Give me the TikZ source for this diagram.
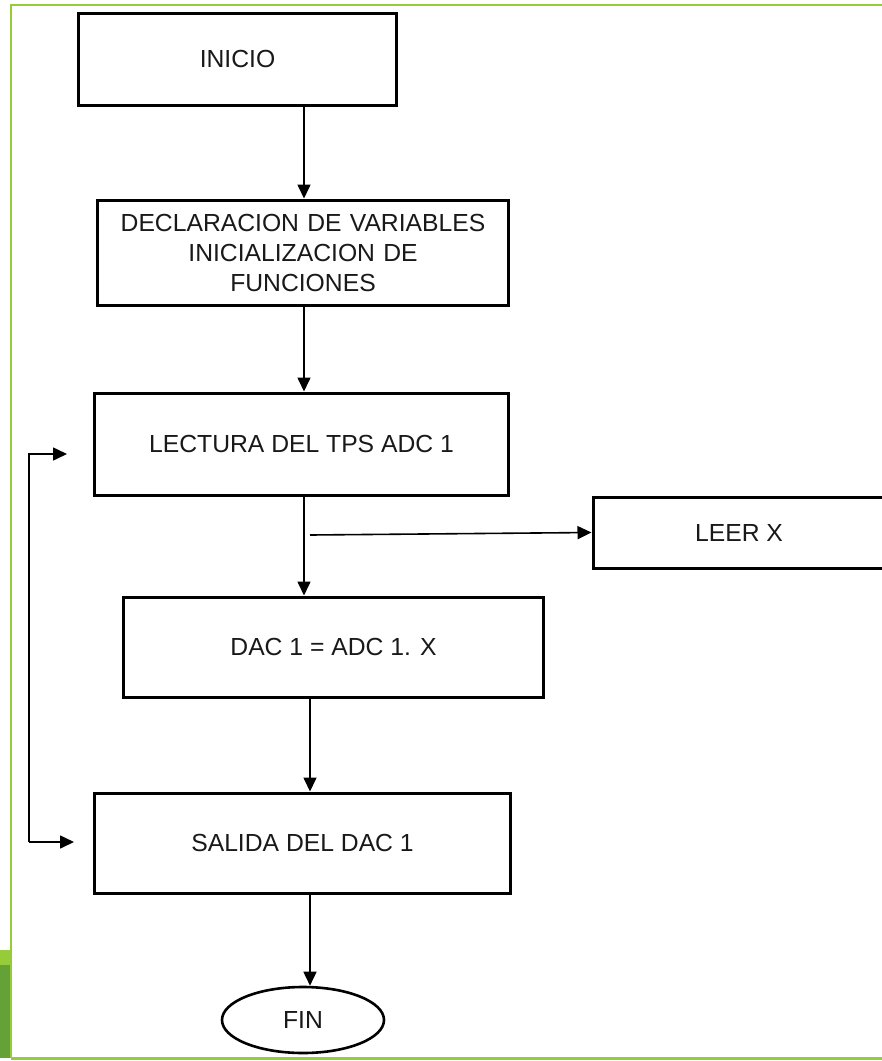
\documentclass[tikz,border=0pt]{standalone}
\usepackage{fontspec}
\setmainfont{Liberation Sans}
\usetikzlibrary{arrows.meta,shapes.geometric}
\definecolor{framegreen}{RGB}{150,204,58}
\definecolor{darkgreen}{RGB}{100,162,56}
\begin{document}
\begin{tikzpicture}[x=1bp,y=-1bp,
  every node/.style={font=\fontsize{24.7bp}{30bp}\selectfont, text=black!90},
  stepbox/.style={draw=black, line width=3bp, rectangle, align=center, inner sep=0pt},
  endbox/.style={draw=black, line width=2.6bp, ellipse, inner sep=0pt},
  arr/.style={draw=black, line width=1.6bp, -{Triangle[length=14bp,width=13bp]}},
  frame/.style={draw=framegreen, line width=2.2bp}]
\useasboundingbox (0,0) rectangle (882,1061);
\clip (0,0) rectangle (882,1061);
\fill[white] (0,0) rectangle (882,1061);

% page frame and corner tab
\draw[frame] (882,5.3) -- (11,5.3) -- (11,1058);
\draw[frame, line width=2.8bp] (11,1058.3) -- (882,1058.3);
\fill[framegreen] (0,950) rectangle (10,965);
\fill[darkgreen] (0,965) rectangle (10,1058);

% flow steps
\node[stepbox, minimum width=317bp, minimum height=92bp] (inicio) at (237.5,59) {INICIO};
\node[stepbox, minimum width=410bp, minimum height=105bp, text width=400bp] (decl) at (303,252.5)
  {DECLARACION DE VARIABLES\\INICIALIZACION DE\\FUNCIONES};
\node[stepbox, minimum width=413bp, minimum height=102bp] (lect) at (301.5,444) {LECTURA DEL TPS ADC 1};
\node[stepbox, minimum width=292bp, minimum height=71bp] (leer) at (739,532.5) {LEER X};
\node[stepbox, minimum width=419bp, minimum height=100bp] (dac) at (333.5,647) {DAC 1 = ADC 1. X};
\node[stepbox, minimum width=415bp, minimum height=100bp] (sal) at (302.5,843) {SALIDA DEL DAC 1};
\node[endbox, minimum width=162bp, minimum height=66bp] (fin) at (303,1020) {FIN};

% connector columns and loop ends
\coordinate (colA) at (304,0);
\coordinate (colB) at (310,0);
\coordinate (split) at (310,535);
\coordinate (loopTop) at (29,454);
\coordinate (loopBot) at (29,842);
\coordinate (tipTop) at (67,454);
\coordinate (tipBot) at (74,842);

% main flow
\draw[arr] (inicio.south -| colA) -- (decl.north -| colA);
\draw[arr] (decl.south -| colA) -- (lect.north -| colA);
\draw[arr] (lect.south -| colA) -- (dac.north -| colA);
\draw[arr] (split) -- (leer.west);
\draw[arr] (dac.south -| colB) -- (sal.north -| colB);
\draw[arr] (sal.south -| colB) -- (fin.north -| colB);

% loop back
\draw[arr] (loopBot) -- (loopTop) -- (tipTop);
\draw[arr] (loopBot) -- (tipBot);
\end{tikzpicture}
\end{document}
